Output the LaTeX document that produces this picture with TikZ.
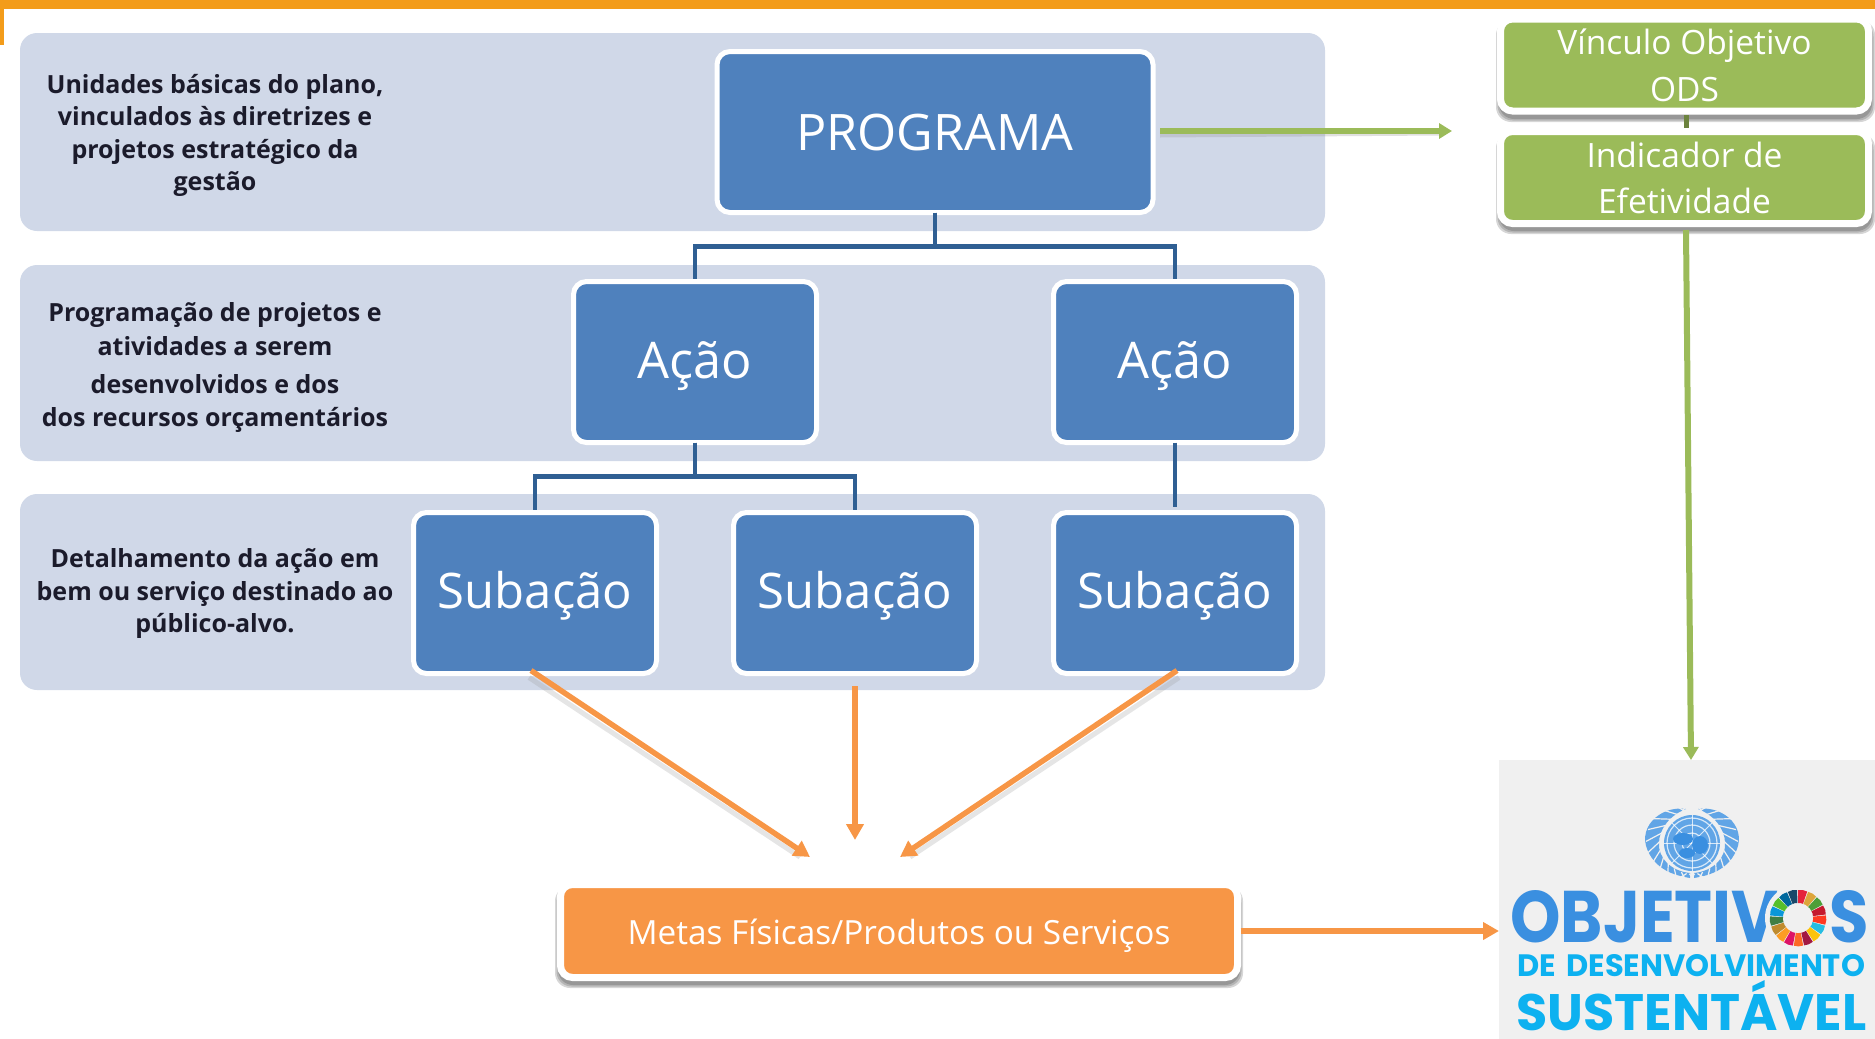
\documentclass[tikz,border=0pt]{standalone}
\usepackage{fontspec}
\setmainfont{Open Sans}
\newfontfamily\logofont{Poppins}
\usetikzlibrary{arrows.meta,shapes.geometric}
\definecolor{topbar}{HTML}{F39C1A}
\definecolor{bandc}{HTML}{D0D8E8}
\definecolor{bluec}{HTML}{4F81BD}
\definecolor{linkc}{HTML}{2F5F93}
\definecolor{greenc}{HTML}{9BBB59}
\definecolor{orangec}{HTML}{F79646}
\definecolor{logobg}{HTML}{F0F0F0}
\definecolor{logoa}{HTML}{3A8FE0}
\definecolor{logob}{HTML}{0DB1F0}
\definecolor{labelc}{HTML}{1B1B2B}
\definecolor{sdga}{HTML}{E5243B}\definecolor{sdgb}{HTML}{DDA63A}\definecolor{sdgc}{HTML}{4C9F38}
\definecolor{sdgd}{HTML}{C5192D}\definecolor{sdge}{HTML}{FF3A21}\definecolor{sdgf}{HTML}{26BDE2}
\definecolor{sdgg}{HTML}{FCC30B}\definecolor{sdgh}{HTML}{A21942}\definecolor{sdgi}{HTML}{FD6925}
\definecolor{sdgj}{HTML}{DD1367}\definecolor{sdgk}{HTML}{FD9D24}\definecolor{sdgl}{HTML}{BF8B2E}
\definecolor{sdgm}{HTML}{3F7E44}\definecolor{sdgn}{HTML}{0A97D9}\definecolor{sdgo}{HTML}{56C02B}
\definecolor{sdgp}{HTML}{00689D}\definecolor{sdgq}{HTML}{19486A}
\newcommand{\dropto}[2]{\raisebox{-#1pt}[0pt][0pt]{#2}}
\tikzset{
  band/.style={fill=bandc,rounded corners=17pt,inner sep=0pt,outer sep=0pt},
  bandlabel/.style={align=center,font=\bfseries\fontsize{25}{32.5}\selectfont,text=labelc,inner sep=0pt},
  bluebox/.style={fill=bluec,draw=white,line width=5pt,rounded corners=13pt,inner sep=0pt,outer sep=0pt,text=white,font=\fontsize{50.5}{60}\selectfont},
  greenbox/.style={fill=greenc,draw=white,line width=7pt,rounded corners=12pt,inner sep=0pt,outer sep=0pt,text=white,align=center,font=\fontsize{33.5}{46}\selectfont},
  orangebox/.style={fill=orangec,draw=white,line width=7pt,rounded corners=12pt,inner sep=0pt,outer sep=0pt,text=white,font=\fontsize{33.3}{36}\selectfont},
  softshadow/.style={fill=black,opacity=0.16,rounded corners=15pt},
  link/.style={draw=linkc,line width=4.5pt},
  garrow/.style={draw=greenc,line width=6pt,-{Triangle[length=13pt,width=15pt]}},
  oarrow/.style={draw=orangec,line width=5.5pt,-{Triangle[length=16pt,width=17pt]}},
  garrowshadow/.style={draw=black!40,opacity=0.3,line width=5pt},
}
\begin{document}
\begin{tikzpicture}[x=1pt,y=-1pt]
\useasboundingbox (0,0) rectangle (1875,1039);
% top frame
\fill[topbar] (0,0) rectangle (1875,9);
\fill[topbar] (0,0) rectangle (4,45);
% bands
\node[band,minimum width=1305pt,minimum height=198pt] (b1) at (672.5,132) {};
\node[band,minimum width=1305pt,minimum height=196pt] (b2) at (672.5,363) {};
\node[band,minimum width=1305pt,minimum height=196pt] (b3) at (672.5,592) {};
% band labels
\node[bandlabel] (l1) at (215,135.5) {Unidades básicas do plano,\\[0pt]vinculados às diretrizes e\\[0pt]projetos estratégico da\\[0pt]gestão};
\node[bandlabel] (l2) at (215,367.5) {Programação de projetos e\\[1.5pt]atividades a serem\\[5.5pt]desenvolvidos e dos\\[0pt]dos recursos orçamentários};
\node[bandlabel] (l3) at (215,593.5) {Detalhamento da ação em\\[0pt]bem ou serviço destinado ao\\[0pt]público-alvo.};
% blue boxes
\node[bluebox,minimum width=436pt,minimum height=161pt,font=\fontsize{50.3}{60}\selectfont] (p) at (935,132) {\dropto{18}{PROGRAMA}};
\node[bluebox,minimum width=243pt,minimum height=161pt] (a1) at (695,362) {\dropto{16}{Ação}};
\node[bluebox,minimum width=243pt,minimum height=161pt] (a2) at (1175,362) {\dropto{16}{Ação}};
\node[bluebox,minimum width=243pt,minimum height=161pt,font=\fontsize{49}{60}\selectfont] (s1) at (535,593) {\dropto{15}{Subação}};
\node[bluebox,minimum width=243pt,minimum height=161pt,font=\fontsize{49}{60}\selectfont] (s2) at (855,593) {\dropto{15}{Subação}};
\node[bluebox,minimum width=243pt,minimum height=161pt,font=\fontsize{49}{60}\selectfont] (s3) at (1175,593) {\dropto{15}{Subação}};
% hierarchy links
\draw[link] (p.south) -- ++(0,34) -| ([yshift=3pt]a1.north);
\draw[link] (p.south) -- ++(0,34) -| ([yshift=3pt]a2.north);
\draw[link] (a1.south) -- ++(0,34) -| ([yshift=3pt]s1.north);
\draw[link] (a1.south) -- ++(0,34) -| ([yshift=3pt]s2.north);
\draw[link] (a2.south) -- ([yshift=6pt]s3.north);
% shadows of the light boxes
\foreach \d in {0,1.5,3}{
  \fill[softshadow] (1496+\d,20+\d) rectangle (1875-\d,122-\d);
  \fill[softshadow] (1496+\d,133+\d) rectangle (1875-\d,234-\d);
  \fill[softshadow] (555+\d,886+\d) rectangle (1243-\d,988-\d);
}
% green boxes
\node[greenbox,minimum width=368pt,minimum height=92pt] (v) at (1684.5,65) {\raisebox{-1pt}{Vínculo Objetivo}\\\raisebox{-2pt}{ODS}};
\node[greenbox,minimum width=368pt,minimum height=92pt] (i) at (1684.5,177.5) {Indicador de\\Efetividade};
\draw[draw=greenc!70!black,line width=5pt] ([xshift=1.5pt,yshift=-4pt]v.south) -- ([xshift=1.5pt,yshift=4pt]i.north);
% orange box
\node[orangebox,minimum width=677pt,minimum height=93pt] (m) at (899,931) {\dropto{13.5}{Metas Físicas/Produtos ou Serviços}};
% logo panel
\node[fill=logobg,inner sep=0pt,outer sep=0pt,minimum width=376pt,minimum height=279pt] (logo) at (1687,899.5) {};
% emblem
\begin{scope}[shift={(1692,843)}]
  \fill[logoa!80] (-6,-34) .. controls (-32,-38) and (-58,-14) .. (-42,12) .. controls (-34,26) and (-20,32) .. (-2,35)
     -- (-2,30) .. controls (-22,28) and (-34,14) .. (-33,0) .. controls (-33,-14) and (-22,-28) .. (-6,-34) -- cycle;
  \fill[logoa!80] (6,-34) .. controls (32,-38) and (58,-14) .. (42,12) .. controls (34,26) and (20,32) .. (2,35)
     -- (2,30) .. controls (22,28) and (34,14) .. (33,0) .. controls (33,-14) and (22,-28) .. (6,-34) -- cycle;
  \foreach \a in {-110,-95,...,110}{
    \draw[logobg,line width=1.2pt] (\a:31) -- (\a+18:46);
    \draw[logobg,line width=1.2pt] (180-\a:31) -- (180-\a-18:46);
  }
  \fill[logoa!80] (0,0) circle (28pt);
  \foreach \r in {10,18,25}{\draw[white,opacity=.75,line width=1.2pt] (0,0) circle (\r pt);}
  \foreach \a in {0,45,...,315}{\draw[white,opacity=.75,line width=1pt] (0,0) -- (\a:28);}
  \fill[logoa] (-9,-4) ellipse (10pt and 6pt);
  \fill[logoa] (8,2) ellipse (8pt and 9pt);
  \fill[logoa] (-5,10) ellipse (8pt and 5pt);
\end{scope}
% logo words
\node[inner sep=0pt,outer sep=0pt,anchor=center,text=logoa] (o1) at (1689.5,917) {\resizebox{358pt}{52pt}{\logofont\bfseries OBJETIVOS}};
\node[inner sep=0pt,outer sep=0pt,anchor=center,text=logob] (o2) at (1691,965.5) {\resizebox{348pt}{22pt}{\logofont\bfseries DE\hspace{0.35em}DESENVOLVIMENTO}};
\node[inner sep=0pt,outer sep=0pt,anchor=base,text=logob] (o3) at (1691.5,1030) {\resizebox{350pt}{50pt}{\logofont\bfseries SUSTENTÁVEL}};
% SDG colour ring over the O
\begin{scope}[shift={(1798,918)}]
  \fill[logobg] (0,0) circle (33pt);
  \foreach \c [count=\n from 0] in {sdga,sdgb,sdgc,sdgd,sdge,sdgf,sdgg,sdgh,sdgi,sdgj,sdgk,sdgl,sdgm,sdgn,sdgo,sdgp,sdgq}{
    \pgfmathsetmacro{\st}{-90+\n*360/17}
    \pgfmathsetmacro{\en}{\st+360/17-2}
    \pgfmathsetmacro{\md}{(\st+\en)/2}
    \fill[\c] (\st:15) -- (\st:28) -- (\md:28.4) -- (\en:28) -- (\en:15) -- (\md:15.2) -- cycle;
  }
\end{scope}
% arrows
\coordinate (gt) at (1452,131);
\draw[garrowshadow] ([xshift=7pt,yshift=-3pt]p.east) -- ([yshift=-2pt,xshift=-10pt]gt);
\draw[garrow] ([xshift=7pt,yshift=1pt]p.east) -- (gt);
\coordinate (gstart) at (1686,230);
\coordinate (gend) at (1691,760);
\draw[garrow] (gstart) -- (gend);
\coordinate (t1) at (810,857);
\coordinate (t2) at (855,840);
\coordinate (t3) at (900,857);
\coordinate (s2a) at (855,686);
\draw[garrowshadow,opacity=0.25] ([xshift=-6pt,yshift=-4pt]s1.south) -- ([xshift=-10pt,yshift=0pt]t1);
\draw[oarrow] ([xshift=-4pt,yshift=3pt]s1.south) -- (t1);
\draw[oarrow] (s2a) -- (t2);
\draw[garrowshadow,opacity=0.25] ([xshift=4pt,yshift=-4pt]s3.south) -- ([xshift=10pt,yshift=0pt]t3);
\draw[oarrow] ([xshift=2pt,yshift=3pt]s3.south) -- (t3);
\draw[oarrow] ([xshift=3pt,yshift=0pt]m.east) -- (logo.west |- m.east);
\end{tikzpicture}
\end{document}
